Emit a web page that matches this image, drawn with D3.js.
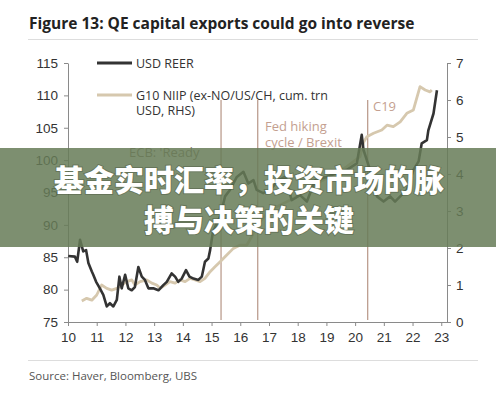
<!DOCTYPE html>
<html>
<head>
<meta charset="utf-8">
<script src="https://cdn.jsdelivr.net/npm/d3@7"></script>
<style>
    body { margin: 0; background: #fff; }
    svg { display: block; font-family: "Open Sans", sans-serif; }
</style>
</head>
<body>
<svg width="496" height="397"></svg>
<script>
const title = "Figure 13: QE capital exports could go into reverse";
const source = "Source: Haver, Bloomberg, UBS";
const bannerLines = ["基金实时汇率，投资市场的脉", "搏与决策的关键"];

const xTicks = d3.range(10, 24);
const leftTicks = d3.range(75, 116, 5);
const rightTicks = d3.range(0, 8);

// USD REER, left axis
const reerYears = [10.01, 10.24, 10.32, 10.42, 10.53, 10.63, 10.71, 10.83, 10.88, 10.98, 11.11, 11.23, 11.35, 11.46,
    11.58, 11.70, 11.79, 11.87, 11.99, 12.10, 12.22, 12.33, 12.45, 12.57, 12.68, 12.80, 12.97, 13.15, 13.32, 13.44,
    13.61, 13.73, 13.84, 13.96, 14.11, 14.23, 14.37, 14.54, 14.66, 14.77, 14.89, 14.95, 15.04, 15.18, 15.30, 15.47,
    15.64, 15.88, 16.11, 16.28, 16.46, 16.57, 16.80, 17.04, 17.33, 17.56, 17.79, 18.08, 18.32, 18.61, 19.01, 19.36,
    19.71, 20.06, 20.23, 20.29, 20.52, 20.76, 20.99, 21.22, 21.39, 21.57, 21.80, 22.03, 22.21, 22.32, 22.50, 22.55,
    22.73, 22.85];
const reerValues = [85.2, 85.1, 84.3, 87.7, 85.9, 86.1, 84.1, 82.8, 82.3, 81.2, 80.2, 79.2, 77.4, 77.9,
    77.4, 78.4, 82.0, 80.2, 82.3, 80.2, 79.9, 80.4, 83.5, 82.0, 81.5, 80.2, 80.2, 79.9, 80.7, 81.2,
    82.5, 82.0, 81.2, 81.7, 83.0, 82.0, 81.7, 81.5, 82.0, 84.3, 84.8, 86.1, 88.7, 90.3, 91.3, 94.4,
    95.4, 97.4, 98.2, 96.4, 96.9, 95.4, 94.9, 95.4, 96.9, 97.4, 93.8, 94.6, 93.6, 96.9, 97.4, 98.0,
    98.5, 99.5, 103.9, 101.6, 98.5, 94.4, 93.6, 94.4, 93.6, 94.4, 95.4, 98.5, 99.8, 102.6, 103.1, 104.6,
    107.2, 110.8];

// G10 NIIP, right axis
const niipYears = [10.48, 10.65, 10.83, 11.00, 11.17, 11.35, 11.52, 11.70, 11.87, 12.05, 12.22, 12.33, 12.51, 12.74,
    12.92, 13.09, 13.21, 13.38, 13.55, 13.73, 13.90, 14.08, 14.25, 14.43, 14.60, 14.77, 14.95, 15.12, 15.30, 15.53,
    15.76, 16.00, 16.23, 16.40, 16.57, 17.04, 17.62, 18.08, 18.67, 19.13, 19.71, 20.17, 20.29, 20.41, 20.64, 20.93,
    21.11, 21.33, 21.57, 21.80, 22.03, 22.26, 22.44, 22.61, 22.67];
const niipValues = [0.57, 0.64, 0.59, 0.73, 1.00, 0.91, 0.86, 0.91, 1.00, 1.09, 1.14, 1.00, 1.09, 1.14,
    1.05, 1.00, 0.91, 1.00, 1.09, 1.05, 1.14, 1.09, 1.18, 1.14, 1.09, 1.18, 1.36, 1.49, 1.63, 1.81,
    1.99, 2.08, 2.08, 2.31, 2.60, 3.03, 3.25, 3.43, 3.75, 3.93, 4.20, 4.47, 4.85, 5.01, 5.10, 5.19,
    5.32, 5.28, 5.41, 5.64, 5.73, 6.36, 6.27, 6.22, 6.27];

const eventYears = [15.33, 16.61, 20.44];

const darkColor = "#333333";
const lightColor = "#d6c8ae";
const eventColor = "#a8806e";
const noteColor = "#c49f90";
const axisColor = "#8a8a8a";

const svg = d3.select("svg");
const x = d3.scaleLinear([10, 23.2], [68, 447]);
const yLeft = d3.scaleLinear([75, 115], [322, 63]);
const yRight = d3.scaleLinear([0, 7], [322, 63]);

const styleAxis = g => {
    g.select(".domain").attr("stroke", axisColor);
    g.selectAll(".tick line").attr("stroke", axisColor);
    g.selectAll(".tick text").attr("fill", "#333").style("font-size", "13.5px");
};

// header and footer
svg.append("text").attr("x", 29).attr("y", 29)
    .style("font-size", "15.5px").style("font-weight", 700).attr("fill", "#222")
    .text(title);
svg.append("line").attr("x1", 28).attr("x2", 478).attr("y1", 39.5).attr("y2", 39.5).attr("stroke", "#ddd");
svg.append("line").attr("x1", 28).attr("x2", 478).attr("y1", 360.5).attr("y2", 360.5).attr("stroke", "#ddd");
svg.append("text").attr("x", 29).attr("y", 380)
    .style("font-size", "11.5px").attr("fill", "#555")
    .text(source);

// axes
svg.append("g").attr("transform", `translate(${x.range()[0]},0)`)
    .call(d3.axisLeft(yLeft).tickValues(leftTicks).tickSize(4).tickSizeOuter(0).tickPadding(6))
    .call(styleAxis);
svg.append("g").attr("transform", `translate(${x.range()[1]},0)`)
    .call(d3.axisRight(yRight).tickValues(rightTicks).tickFormat(d3.format("d"))
        .tickSize(4).tickSizeOuter(0).tickPadding(5))
    .call(styleAxis);
svg.append("g").attr("transform", `translate(0,${yLeft(75)})`)
    .call(d3.axisBottom(x).tickValues(xTicks).tickSize(4).tickSizeOuter(0).tickPadding(6))
    .call(styleAxis);

// event lines
svg.selectAll(".event")
    .data(eventYears)
    .join("line")
    .attr("class", "event")
    .attr("x1", d => x(d)).attr("x2", d => x(d))
    .attr("y1", 100).attr("y2", 320)
    .attr("stroke", eventColor).attr("stroke-width", 1);

const notes = [
    { x: 129, y: 157, lines: ["ECB: 'Ready"], color: "#8c7b6c" },
    { x: 265, y: 131, lines: ["Fed hiking", "cycle / Brexit"], color: noteColor },
    { x: 373, y: 111, lines: ["C19"], color: noteColor }
];
notes.forEach(n => {
    svg.append("text").attr("x", n.x).attr("y", n.y)
        .style("font-size", "13px").attr("fill", n.color)
        .selectAll("tspan").data(n.lines).join("tspan")
        .attr("x", n.x).attr("dy", (d, i) => i ? 16 : 0)
        .text(d => d);
});

// series
const lineL = d3.line().x(d => x(d[0])).y(d => yLeft(d[1]));
const lineR = d3.line().x(d => x(d[0])).y(d => yRight(d[1]));
svg.append("path")
    .attr("d", lineR(d3.zip(niipYears, niipValues)))
    .attr("fill", "none").attr("stroke", lightColor).attr("stroke-width", 2.8).attr("stroke-linejoin", "round");
svg.append("path")
    .attr("d", lineL(d3.zip(reerYears, reerValues)))
    .attr("fill", "none").attr("stroke", darkColor).attr("stroke-width", 2.6).attr("stroke-linejoin", "round");

// legend
const legend = [
    { label: ["USD REER"], color: darkColor, y: 63 },
    { label: ["G10 NIIP (ex-NO/US/CH, cum. trn", "USD, RHS)"], color: lightColor, y: 95 }
];
legend.forEach(l => {
    svg.append("line").attr("x1", 97).attr("x2", 132).attr("y1", l.y).attr("y2", l.y)
        .attr("stroke", l.color).attr("stroke-width", 3);
    svg.append("text").attr("x", 136).attr("y", l.y + 4.5)
        .style("font-size", "12.5px").attr("fill", "#333")
        .selectAll("tspan").data(l.label).join("tspan")
        .attr("x", 136).attr("dy", (d, i) => i ? 15 : 0)
        .text(d => d);
});

// banner
svg.append("rect").attr("x", 0).attr("y", 148).attr("width", 496).attr("height", 99)
    .attr("fill", "rgb(102,123,87)").attr("opacity", 0.85);
svg.append("g")
    .selectAll("text").data(bannerLines).join("text")
    .attr("x", 249).attr("y", (d, i) => 191 + i * 40)
    .attr("text-anchor", "middle")
    .style("font-family", "'Noto Sans CJK SC', sans-serif")
    .style("font-size", "30px").style("font-weight", 900)
    .attr("fill", "#fff")
    .style("paint-order", "stroke")
    .attr("stroke", "rgba(60,70,50,0.35)").attr("stroke-width", 2)
    .text(d => d);
</script>
</body>
</html>
